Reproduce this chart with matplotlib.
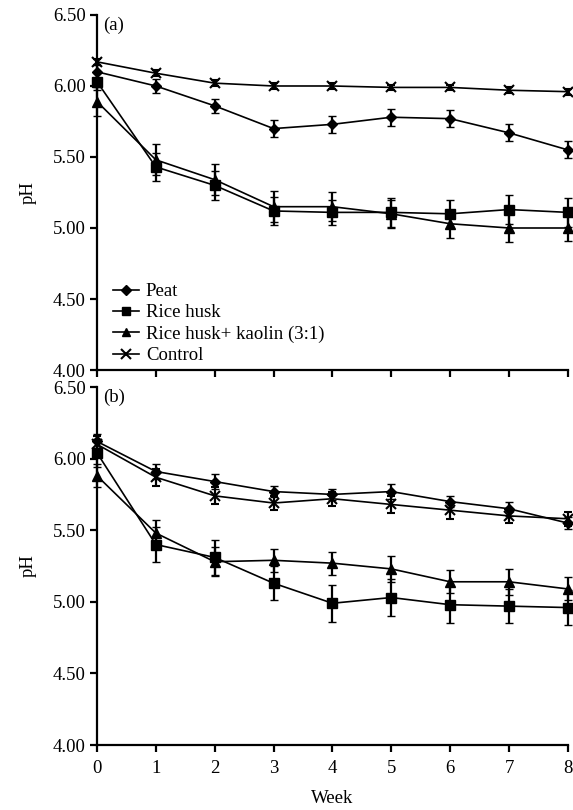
import matplotlib
matplotlib.use("Agg")
import matplotlib.pyplot as plt
from matplotlib.lines import Line2D

plt.rcParams['font.family'] = ['Liberation Serif', 'DejaVu Serif']

weeks = [0, 1, 2, 3, 4, 5, 6, 7, 8]
series_names = ["Peat", "Rice husk", "Rice husk+ kaolin (3:1)", "Control"]

# Panel (a)
a_peat = [6.10, 6.00, 5.86, 5.70, 5.73, 5.78, 5.77, 5.67, 5.55]
a_peat_err = [0.05, 0.05, 0.05, 0.06, 0.06, 0.06, 0.06, 0.06, 0.06]
a_rh = [6.03, 5.43, 5.30, 5.12, 5.11, 5.11, 5.10, 5.13, 5.11]
a_rh_err = [0.06, 0.10, 0.10, 0.10, 0.09, 0.10, 0.10, 0.10, 0.10]
a_rhk = [5.89, 5.48, 5.34, 5.15, 5.15, 5.10, 5.03, 5.00, 5.00]
a_rhk_err = [0.10, 0.11, 0.11, 0.11, 0.10, 0.10, 0.10, 0.10, 0.09]
a_ctrl = [6.17, 6.09, 6.02, 6.00, 6.00, 5.99, 5.99, 5.97, 5.96]
a_ctrl_err = [0.02, 0.02, 0.02, 0.02, 0.02, 0.02, 0.02, 0.02, 0.02]

# Panel (b)
b_peat = [6.12, 5.91, 5.84, 5.77, 5.75, 5.77, 5.70, 5.65, 5.55]
b_peat_err = [0.05, 0.05, 0.05, 0.04, 0.04, 0.05, 0.04, 0.05, 0.04]
b_rh = [6.04, 5.40, 5.31, 5.13, 4.99, 5.03, 4.98, 4.97, 4.96]
b_rh_err = [0.10, 0.12, 0.12, 0.12, 0.13, 0.13, 0.13, 0.12, 0.12]
b_rhk = [5.88, 5.48, 5.28, 5.29, 5.27, 5.23, 5.14, 5.14, 5.09]
b_rhk_err = [0.08, 0.09, 0.10, 0.08, 0.08, 0.09, 0.08, 0.09, 0.08]
b_ctrl = [6.10, 5.87, 5.74, 5.69, 5.72, 5.68, 5.64, 5.60, 5.58]
b_ctrl_err = [0.06, 0.06, 0.06, 0.05, 0.05, 0.06, 0.06, 0.05, 0.05]

markers = ['D', 's', '^', 'x']
msizes = [5.5, 6.5, 6.5, 7]

yticks = [4.00, 4.50, 5.00, 5.50, 6.00, 6.50]
FS = 13.5

fig = plt.figure(figsize=(5.73, 8.10), dpi=100)
ax_a = fig.add_axes([0.1693, 0.5432, 0.8217, 0.4383])
ax_b = fig.add_axes([0.1693, 0.0802, 0.8217, 0.4420])

def draw(ax, data, panel_label, show_xlabels):
    for (vals, errs), m, ms, name in zip(data, markers, msizes, series_names):
        ax.errorbar(weeks, vals, yerr=errs, color='black', marker=m,
                    markersize=ms, markeredgewidth=1.5 if m == 'x' else 1.0,
                    linewidth=1.2, elinewidth=1.6, capsize=3, capthick=1.6,
                    label=name, clip_on=False)
    ax.set_xlim(0, 8)
    ax.set_ylim(4.0, 6.5)
    ax.set_yticks(yticks)
    ax.set_yticklabels([f"{v:.2f}" for v in yticks])
    ax.set_xticks(weeks)
    if show_xlabels:
        ax.set_xticklabels([str(w) for w in weeks])
    else:
        ax.set_xticklabels([])
    for s in ['top', 'right']:
        ax.spines[s].set_visible(False)
    for s in ['left', 'bottom']:
        ax.spines[s].set_linewidth(1.6)
    ax.tick_params(axis='y', direction='out', length=5, width=1.6, labelsize=FS, pad=3)
    ax.tick_params(axis='x', direction='out', length=5, width=1.6, labelsize=FS, pad=6)
    ax.set_ylabel('pH', fontsize=FS, labelpad=12)
    ax.text(0.012, 0.995, panel_label, transform=ax.transAxes, fontsize=FS,
            va='top', ha='left')

draw(ax_a, [(a_peat, a_peat_err), (a_rh, a_rh_err), (a_rhk, a_rhk_err), (a_ctrl, a_ctrl_err)], '(a)', False)
draw(ax_b, [(b_peat, b_peat_err), (b_rh, b_rh_err), (b_rhk, b_rhk_err), (b_ctrl, b_ctrl_err)], '(b)', True)

leg_handles = [Line2D([], [], color='black', marker=m, markersize=ms - 0.5, linewidth=1.2,
                      markeredgewidth=1.5 if m == 'x' else 1.0)
               for m, ms in zip(markers, msizes)]
ax_a.legend(leg_handles, series_names, loc='lower left', bbox_to_anchor=(0.01, -0.015),
            frameon=False, fontsize=FS, handlelength=1.4, handletextpad=0.35,
            labelspacing=0.22, borderaxespad=0.2)

ax_b.set_xlabel('Week', fontsize=FS, labelpad=9)

fig.savefig('out.png', dpi=100)
